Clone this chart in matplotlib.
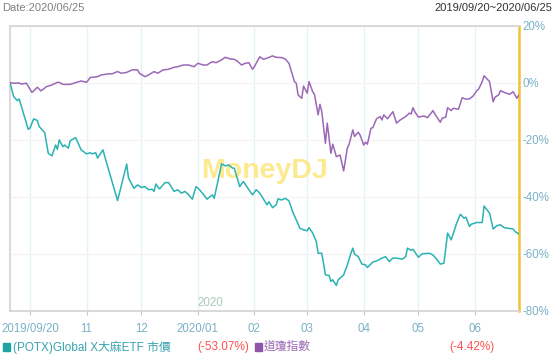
import pandas as pd
import matplotlib
matplotlib.use("Agg")
from matplotlib import pyplot as plt
from matplotlib.patches import Rectangle

plt.rcParams["font.family"] = ["Liberation Sans", "Noto Sans CJK TC", "DejaVu Sans"]

# region data

potx_dates = [
    "2019-09-20", "2019-09-22", "2019-09-24", "2019-09-25", "2019-09-26", "2019-09-30",
    "2019-10-01", "2019-10-03", "2019-10-05", "2019-10-06", "2019-10-09", "2019-10-11",
    "2019-10-13", "2019-10-15", "2019-10-16", "2019-10-17", "2019-10-19", "2019-10-20",
    "2019-10-22", "2019-10-23", "2019-10-26", "2019-10-27", "2019-10-29", "2019-11-01",
    "2019-11-03", "2019-11-04", "2019-11-06", "2019-11-07", "2019-11-10", "2019-11-11",
    "2019-11-18", "2019-11-23", "2019-11-24", "2019-11-27", "2019-11-29", "2019-12-01",
    "2019-12-03", "2019-12-05", "2019-12-07", "2019-12-08", "2019-12-09", "2019-12-11",
    "2019-12-14", "2019-12-16", "2019-12-19", "2019-12-21", "2019-12-23", "2019-12-25",
    "2019-12-27", "2019-12-29", "2019-12-31", "2020-01-02", "2020-01-05", "2020-01-06",
    "2020-01-09", "2020-01-10", "2020-01-12", "2020-01-14", "2020-01-16", "2020-01-18",
    "2020-01-20", "2020-01-21", "2020-01-24", "2020-01-26", "2020-01-29", "2020-01-31",
    "2020-02-02", "2020-02-04", "2020-02-08", "2020-02-09", "2020-02-11", "2020-02-13",
    "2020-02-14", "2020-02-16", "2020-02-18", "2020-02-20", "2020-02-22", "2020-02-24",
    "2020-02-26", "2020-02-28", "2020-03-01", "2020-03-02", "2020-03-04", "2020-03-06",
    "2020-03-07", "2020-03-09", "2020-03-11", "2020-03-13", "2020-03-14", "2020-03-15",
    "2020-03-17", "2020-03-18", "2020-03-21", "2020-03-23", "2020-03-25", "2020-03-26",
    "2020-03-27", "2020-03-29", "2020-03-31", "2020-04-02", "2020-04-03", "2020-04-06",
    "2020-04-08", "2020-04-11", "2020-04-13", "2020-04-15", "2020-04-17", "2020-04-19",
    "2020-04-22", "2020-04-24", "2020-04-25", "2020-04-27", "2020-04-28", "2020-05-01",
    "2020-05-03", "2020-05-07", "2020-05-09", "2020-05-11", "2020-05-13", "2020-05-15",
    "2020-05-17", "2020-05-19", "2020-05-22", "2020-05-24", "2020-05-26", "2020-05-27",
    "2020-05-29", "2020-05-30", "2020-06-02", "2020-06-05", "2020-06-06", "2020-06-08",
    "2020-06-09", "2020-06-11", "2020-06-13", "2020-06-15", "2020-06-17", "2020-06-19",
    "2020-06-22", "2020-06-23", "2020-06-25",
]
potx_pct = [
    0.0, -4.9, -6.3, -5.7, -7.8, -16.4,
    -15.9, -12.7, -13.3, -15.4, -17.5, -24.8,
    -25.7, -21.9, -23.4, -20.1, -22.5, -21.9,
    -23.0, -20.4, -19.3, -20.7, -23.6, -25.0,
    -24.6, -25.0, -24.6, -26.5, -23.6, -26.0,
    -41.4, -28.6, -33.5, -37.1, -35.9, -36.8,
    -36.5, -37.6, -37.4, -38.2, -35.6, -37.3,
    -35.1, -35.1, -38.2, -37.6, -38.8, -38.2,
    -39.4, -40.9, -36.5, -37.6, -40.0, -40.9,
    -39.4, -40.6, -34.7, -28.5, -29.2, -28.9,
    -30.0, -30.0, -36.5, -34.7, -37.6, -39.4,
    -37.6, -38.8, -42.9, -41.8, -43.9, -42.9,
    -40.8, -41.2, -40.6, -41.5, -45.3, -48.2,
    -51.1, -51.7, -52.0, -50.9, -52.8, -55.8,
    -59.9, -59.9, -67.5, -67.7, -69.8, -69.2,
    -71.2, -69.2, -67.5, -64.0, -59.9, -58.1,
    -60.2, -61.1, -63.7, -64.0, -64.9, -63.0,
    -62.6, -61.6, -61.1, -62.8, -61.6, -61.6,
    -62.0, -61.1, -58.1, -58.9, -58.5, -61.3,
    -60.1, -59.9, -60.5, -62.0, -63.7, -63.4,
    -52.8, -55.2, -49.3, -46.2, -47.6, -47.2,
    -50.5, -49.7, -49.1, -49.1, -43.3, -45.0,
    -45.8, -51.4, -50.2, -49.9, -50.9, -51.1,
    -51.4, -52.3, -53.07,
]

dji_dates = [
    "2019-09-20", "2019-09-22", "2019-09-25", "2019-09-26", "2019-09-29", "2019-10-02",
    "2019-10-03", "2019-10-05", "2019-10-07", "2019-10-10", "2019-10-13", "2019-10-16",
    "2019-10-17", "2019-10-19", "2019-10-23", "2019-10-26", "2019-10-28", "2019-10-29",
    "2019-11-01", "2019-11-03", "2019-11-07", "2019-11-09", "2019-11-13", "2019-11-15",
    "2019-11-18", "2019-11-20", "2019-11-23", "2019-11-26", "2019-11-29", "2019-11-30",
    "2019-12-03", "2019-12-05", "2019-12-08", "2019-12-10", "2019-12-13", "2019-12-16",
    "2019-12-19", "2019-12-21", "2019-12-24", "2019-12-27", "2019-12-30", "2020-01-01",
    "2020-01-04", "2020-01-06", "2020-01-09", "2020-01-11", "2020-01-14", "2020-01-16",
    "2020-01-19", "2020-01-21", "2020-01-23", "2020-01-25", "2020-01-27", "2020-01-29",
    "2020-01-31", "2020-02-01", "2020-02-04", "2020-02-06", "2020-02-08", "2020-02-11",
    "2020-02-13", "2020-02-16", "2020-02-18", "2020-02-20", "2020-02-23", "2020-02-24",
    "2020-02-25", "2020-02-27", "2020-02-28", "2020-03-01", "2020-03-02", "2020-03-04",
    "2020-03-05", "2020-03-07", "2020-03-08", "2020-03-09", "2020-03-11", "2020-03-12",
    "2020-03-14", "2020-03-15", "2020-03-17", "2020-03-19", "2020-03-21", "2020-03-23",
    "2020-03-24", "2020-03-26", "2020-03-27", "2020-03-29", "2020-03-30", "2020-04-01",
    "2020-04-02", "2020-04-03", "2020-04-05", "2020-04-06", "2020-04-08", "2020-04-10",
    "2020-04-11", "2020-04-12", "2020-04-14", "2020-04-17", "2020-04-19", "2020-04-21",
    "2020-04-24", "2020-04-26", "2020-04-27", "2020-04-28", "2020-04-29", "2020-05-01",
    "2020-05-04", "2020-05-06", "2020-05-09", "2020-05-10", "2020-05-13", "2020-05-14",
    "2020-05-16", "2020-05-17", "2020-05-19", "2020-05-20", "2020-05-23", "2020-05-25",
    "2020-05-27", "2020-05-29", "2020-05-31", "2020-06-02", "2020-06-03", "2020-06-05",
    "2020-06-06", "2020-06-09", "2020-06-11", "2020-06-12", "2020-06-14", "2020-06-15",
    "2020-06-17", "2020-06-20", "2020-06-22", "2020-06-24", "2020-06-25",
]
dji_pct = [
    0.0, -0.2, -0.1, -0.5, -0.2, -3.4,
    -2.9, -1.6, -2.9, -1.4, -0.8, 0.1,
    0.1, -0.6, -0.6, 0.0, 0.4, 0.6,
    0.1, 1.8, 2.1, 2.7, 3.1, 3.1,
    3.9, 3.3, 3.6, 4.5, 4.5, 3.3,
    2.1, 2.7, 3.9, 3.3, 4.5, 4.7,
    5.4, 5.6, 6.2, 6.2, 5.6, 6.8,
    6.2, 6.2, 7.4, 7.0, 8.0, 8.9,
    8.3, 8.2, 7.4, 6.2, 6.8, 7.0,
    4.7, 5.6, 9.1, 8.2, 8.6, 9.4,
    8.9, 8.8, 8.3, 6.8, 0.4, -0.2,
    -4.3, -5.5, -1.2, -3.7, 0.4, -3.2,
    -4.1, -11.3, -7.6, -10.2, -21.3, -14.2,
    -24.8, -21.6, -26.0, -25.4, -31.0, -23.0,
    -21.6, -16.6, -18.9, -17.4, -18.4, -21.9,
    -20.9, -21.6, -16.0, -15.8, -12.7, -11.9,
    -13.1, -11.3, -12.7, -10.2, -14.2, -13.1,
    -11.9, -10.7, -11.0, -8.8, -10.2, -12.1,
    -11.7, -12.3, -9.8, -11.0, -13.9, -12.5,
    -12.1, -8.8, -9.8, -9.0, -9.3, -5.3,
    -5.8, -5.7, -4.7, -2.8, -2.3, 0.4,
    2.4, 0.4, -6.7, -5.1, -4.3, -2.8,
    -3.4, -4.1, -3.2, -5.5, -4.42,
]

month_ticks = ["2019-10-01", "2019-11-01", "2019-12-01", "2020-01-01", "2020-02-01",
               "2020-03-01", "2020-04-01", "2020-05-01", "2020-06-01"]
month_labels = ["2019/09/20", "11", "12", "2020/01", "02", "03", "04", "05", "06"]
y_ticks = [20, 0, -20, -40, -60, -80]

potx_name = "(POTX)Global X大麻ETF 市價"
dji_name = "道瓊指數"
potx_ret = "(-53.07%)"
dji_ret = "(-4.42%)"

# endregion

TEAL = "#2bb2b2"
PURPLE = "#9b68b8"
TICK_C = "#7ab2c6"

fig = plt.figure(figsize=(5.54, 3.57), dpi=100)
ax = fig.add_axes([10 / 554, 1 - 310.5 / 357, 508.7 / 554, 284.8 / 357])

px = pd.to_datetime(potx_dates)
dx = pd.to_datetime(dji_dates)
ax.plot(px, potx_pct, color=TEAL, lw=1.1, zorder=3)
ax.plot(dx, dji_pct, color=PURPLE, lw=1.1, zorder=3)

ax.set_xlim(pd.Timestamp("2019-09-20"), pd.Timestamp("2020-06-25"))
ax.set_ylim(-80, 20)

ticks = pd.to_datetime(month_ticks)
ax.set_xticks(ticks, month_labels)
ax.set_yticks(y_ticks, [f"{v}%" for v in y_ticks])
ax.yaxis.tick_right()
ax.tick_params(axis="y", length=0, pad=3, labelsize=8.3, labelcolor=TICK_C)
ax.tick_params(axis="x", length=3, width=0.8, color="#c8c8c8", pad=6, labelsize=8.3, labelcolor=TICK_C)

for t in ticks:
    ax.axvline(t, color="#e3f3f8", lw=1, zorder=1)
for v in y_ticks:
    ax.axhline(v, color="#f4f4f4", lw=1, zorder=1)

for side in ["left", "top", "bottom"]:
    ax.spines[side].set_color("#d6d6d6")
    ax.spines[side].set_linewidth(1.3)
ax.spines["right"].set_color("#f2c233")
ax.spines["right"].set_linewidth(1.8)

ax.text(0.5, 0.49, "MoneyDJ", transform=ax.transAxes, ha="center", va="center",
        fontsize=20.5, fontweight="bold", color="#fde98e", zorder=2)
ax.text(pd.Timestamp("2020-01-01"), -79.6, "2020", ha="left", va="bottom",
        fontsize=8.3, color="#a9cbb6", zorder=2)

fig.text(2 / 554, 1 - 8 / 357, "Date:2020/06/25", ha="left", va="center", fontsize=8, color="#808080")
fig.text(552 / 554, 1 - 8 / 357, "2019/09/20~2020/06/25", ha="right", va="center", fontsize=8, color="#333333")

# legend row at the bottom
ly = 1 - 347 / 357
sq_h = 8 / 357
for x0, c in [(3.5, "#1ea3a3"), (255, "#8e55a8")]:
    fig.patches.append(Rectangle((x0 / 554, ly - sq_h / 2), 7 / 554, sq_h,
                                 transform=fig.transFigure, color=c))
fig.text(13 / 554, ly, potx_name, ha="left", va="center", fontsize=8.5, color="#3aa3b0")
fig.text(197 / 554, ly, potx_ret, ha="left", va="center", fontsize=8.5, color="#ff5050")
fig.text(264 / 554, ly, dji_name, ha="left", va="center", fontsize=8.5, color="#9a6ab5")
fig.text(449 / 554, ly, dji_ret, ha="left", va="center", fontsize=8.5, color="#ff5050")

fig.savefig("out.png", dpi=100)
